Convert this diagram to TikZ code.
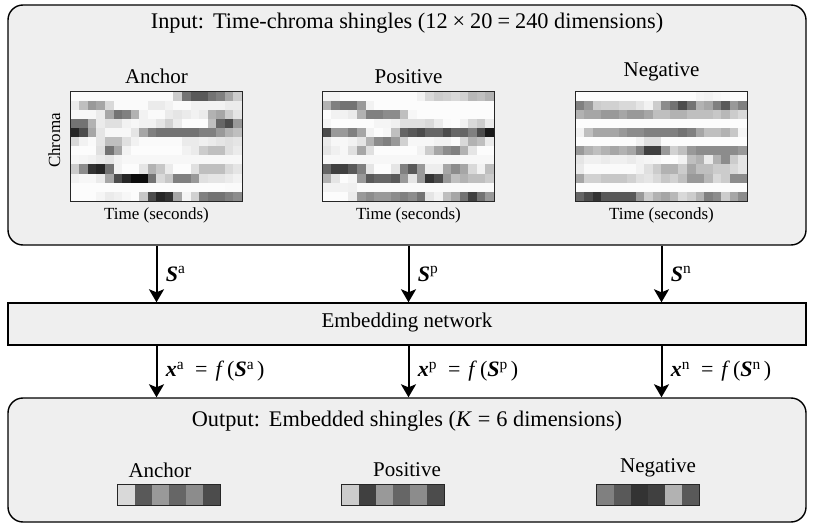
\documentclass[tikz,border=0pt]{standalone}
\usepackage{fontspec}
\setmainfont{Liberation Serif}
\usepackage{tikz}
\usetikzlibrary{arrows.meta,positioning,calc}
\definecolor{panelgray}{RGB}{239,239,239}

\begin{document}
\begin{tikzpicture}[x=1pt, y=-1pt, >={Stealth[length=13pt,width=15pt,inset=3pt]},
    panel/.style={draw=black, line width=1.4pt, fill=panelgray, minimum width=798pt, inner sep=0pt},
    flow/.style={->, line width=2pt},
    mapbox/.style={minimum width=171pt, minimum height=109pt, inner sep=0pt},
    vecbox/.style={minimum width=102pt, minimum height=20pt, inner sep=0pt},
    frame/.style={draw=black!85, line width=1.1pt},
    bigtext/.style={font=\fontsize{22.3}{26}\selectfont},
    midtext/.style={font=\fontsize{21}{25}\selectfont},
    labeltext/.style={font=\fontsize{22}{26}\selectfont},
    smalltext/.style={font=\fontsize{17}{20}\selectfont}]
    \useasboundingbox (0,0) rectangle (815,527);

    % Panels
    \node[panel, rounded corners=15pt, minimum height=240pt] (input) at (407,125) {};
    \node[panel, minimum height=42pt] (embed) at (407,324) {};
    \node[panel, rounded corners=15pt, minimum height=124pt] (output) at (407,460) {};

    \node[bigtext] (intitle) at (407,23) {Input:\hspace{9pt}Time-chroma shingles (12\hspace{5pt}×\hspace{5pt}20\hspace{5pt}=\hspace{5pt}240 dimensions)};
    \node[midtext] (embtitle) at (407,322) {Embedding network};
    \node[bigtext] (outtitle) at (407,421) {Output:\hspace{9pt}Embedded shingles (\textit{K}\hspace{6pt}=\hspace{6pt}6 dimensions)};

    % Chroma maps (12 x 20)
    \node[mapbox] (anchormap) at (156.5,146.5) {};
    \node[mapbox] (positivemap) at (408.5,146.5) {};
    \node[mapbox] (negativemap) at (661.5,146.5) {};

    \begin{scope}[shift={(anchormap.north west)}]
    \foreach \row [count=\r from 0] in {
        {98,98,98,98,98,98,98,98,98,98,98,98,80,45,35,35,45,50,65,80},
        {92,75,60,65,85,98,98,98,98,92,92,95,98,98,95,95,95,95,92,92},
        {97,97,97,92,65,45,50,70,95,98,98,92,90,92,95,92,70,65,80,90},
        {45,45,70,92,88,88,95,97,95,95,90,82,92,99,99,99,75,40,30,60},
        {15,30,65,90,97,97,97,90,65,50,45,45,45,45,45,50,50,60,70,75},
        {85,95,98,90,75,75,88,95,98,98,98,98,98,92,92,94,92,90,88,90},
        {99,99,99,88,45,65,95,99,99,99,99,99,99,95,92,80,75,75,88,92},
        {97,96,95,92,90,95,97,97,97,97,97,97,97,97,97,97,97,97,97,97},
        {80,55,20,15,45,95,99,99,90,70,78,92,99,99,88,75,75,75,85,90},
        {95,97,97,92,65,30,15,5,5,45,85,78,50,50,60,88,90,90,92,95},
        {99,99,99,99,99,99,99,99,99,99,99,99,99,99,99,99,99,99,98,98},
        {99,99,99,96,92,94,97,99,78,30,15,20,65,96,82,50,45,45,50,55}} {
        \foreach \v [count=\c from 0] in \row
            \fill[white!\v!black] (\c*8.55,\r*9.083) rectangle ++(8.6,9.13);
    }
    \end{scope}

    \begin{scope}[shift={(positivemap.north west)}]
    \foreach \row [count=\r from 0] in {
        {95,95,99,99,99,99,99,99,99,99,99,95,85,80,82,85,82,72,75,70},
        {70,50,45,45,60,95,99,99,99,99,99,99,99,99,99,99,99,99,99,99},
        {99,95,95,92,70,50,50,55,55,75,97,99,99,99,99,99,99,99,99,99},
        {96,99,99,99,99,99,96,96,94,88,88,88,85,92,98,99,95,85,80,92},
        {30,60,60,50,65,95,99,97,75,40,35,30,40,40,30,40,40,50,30,10},
        {92,97,97,95,90,70,55,50,60,82,97,97,97,95,95,98,85,70,75,92},
        {90,94,97,88,65,88,99,99,99,99,99,95,80,65,55,50,70,90,99,99},
        {97,97,97,97,97,97,97,97,97,97,97,97,97,97,97,97,97,97,97,97},
        {40,25,25,35,50,90,99,99,90,50,35,60,93,93,65,55,65,85,95,75},
        {70,90,99,96,60,35,40,40,35,60,90,60,20,30,60,75,70,75,75,80},
        {95,95,95,94,98,98,98,98,98,98,98,98,98,98,98,98,98,98,98,98},
        {99,99,99,92,60,55,60,60,55,50,55,45,90,95,75,65,45,25,45,60}} {
        \foreach \v [count=\c from 0] in \row
            \fill[white!\v!black] (\c*8.55,\r*9.083) rectangle ++(8.6,9.13);
    }
    \end{scope}

    \begin{scope}[shift={(negativemap.north west)}]
    \foreach \row [count=\r from 0] in {
        {99,99,99,99,99,99,99,99,99,99,99,99,99,99,96,95,97,98,99,99},
        {50,60,80,82,82,85,85,90,95,80,55,45,30,45,70,65,50,35,60,50},
        {70,65,65,60,60,65,60,60,65,75,75,70,70,75,75,75,78,72,80,85},
        {99,99,99,99,99,99,99,99,99,99,99,99,99,99,99,99,99,99,99,99},
        {95,75,65,65,65,60,55,55,50,50,50,50,45,50,65,75,75,70,78,96},
        {99,99,99,99,99,99,99,95,88,88,99,99,99,99,99,99,99,99,99,99},
        {60,70,75,70,65,70,65,50,25,25,60,82,75,60,55,55,55,55,55,60},
        {90,94,94,92,94,94,92,95,96,97,99,99,95,75,70,92,70,55,80,90},
        {92,98,98,98,98,98,98,95,88,80,70,70,80,65,75,75,80,80,85,90},
        {65,82,82,78,78,78,82,88,90,85,78,82,75,60,60,72,85,80,55,55},
        {99,99,99,99,99,99,99,99,99,99,99,99,99,99,99,99,99,99,99,99},
        {40,30,20,35,35,35,35,60,80,70,65,72,85,80,70,50,55,80,65,55}} {
        \foreach \v [count=\c from 0] in \row
            \fill[white!\v!black] (\c*8.55,\r*9.083) rectangle ++(8.6,9.13);
    }
    \end{scope}

    \draw[frame] (anchormap.north west) rectangle (anchormap.south east);
    \draw[frame] (positivemap.north west) rectangle (positivemap.south east);
    \draw[frame] (negativemap.north west) rectangle (negativemap.south east);

    % Map labels
    \node[midtext, above=5pt of anchormap] (anchorlabel) {Anchor};
    \node[midtext, above=5pt of positivemap] (positivelabel) {Positive};
    \node[midtext, above=7pt of negativemap] (negativelabel) {Negative};
    \node[smalltext, below=3pt of anchormap] (anchortime) {Time (seconds)};
    \node[smalltext, below=3pt of positivemap] (positivetime) {Time (seconds)};
    \node[smalltext, below=3pt of negativemap] (negativetime) {Time (seconds)};
    \node[smalltext, rotate=90, anchor=south] (chromalabel) at ([xshift=-7pt, yshift=6pt]anchormap.west) {Chroma};

    % Arrows
    \draw[flow] (input.south -| anchormap) -- node[labeltext, right=5pt] {\textbf{\textit{S}}\textsuperscript{a}} (embed.north -| anchormap);
    \draw[flow] (input.south -| positivemap) -- node[labeltext, right=5pt] {\textbf{\textit{S}}\textsuperscript{p}} (embed.north -| positivemap);
    \draw[flow] (input.south -| negativemap) -- node[labeltext, right=5pt] {\textbf{\textit{S}}\textsuperscript{n}} (embed.north -| negativemap);
    \draw[flow] (embed.south -| anchormap) -- node[labeltext, right=5pt] {\textbf{\textit{x}}\textsuperscript{a}\hspace{11pt}=\hspace{8pt}\textit{f}\hspace{3pt}(\textbf{\textit{S}}\textsuperscript{a}\hspace{3pt})} (output.north -| anchormap);
    \draw[flow] (embed.south -| positivemap) -- node[labeltext, right=5pt] {\textbf{\textit{x}}\textsuperscript{p}\hspace{11pt}=\hspace{8pt}\textit{f}\hspace{3pt}(\textbf{\textit{S}}\textsuperscript{p}\hspace{3pt})} (output.north -| positivemap);
    \draw[flow] (embed.south -| negativemap) -- node[labeltext, right=5pt] {\textbf{\textit{x}}\textsuperscript{n}\hspace{11pt}=\hspace{8pt}\textit{f}\hspace{3pt}(\textbf{\textit{S}}\textsuperscript{n}\hspace{3pt})} (output.north -| negativemap);

    % Embedded shingles (K = 6)
    \node[vecbox] (anchorvec) at (169,495) {};
    \node[vecbox] (positivevec) at (393,495) {};
    \node[vecbox] (negativevec) at (648,495) {};
    \foreach \v [count=\c from 0] in {85,35,60,40,55,30}
        \fill[white!\v!black] ([xshift=\c*17pt]anchorvec.north west) rectangle ++(17,20);
    \foreach \v [count=\c from 0] in {80,25,60,40,55,30}
        \fill[white!\v!black] ([xshift=\c*17pt]positivevec.north west) rectangle ++(17,20);
    \foreach \v [count=\c from 0] in {50,35,20,25,70,35}
        \fill[white!\v!black] ([xshift=\c*17pt]negativevec.north west) rectangle ++(17,20);
    \draw[frame] (anchorvec.north west) rectangle (anchorvec.south east);
    \draw[frame] (positivevec.north west) rectangle (positivevec.south east);
    \draw[frame] (negativevec.north west) rectangle (negativevec.south east);

    \node[midtext] (anchorname) at (160,470) {Anchor};
    \node[midtext] (positivename) at (407,470) {Positive};
    \node[midtext] (negativename) at (658,468) {Negative};
\end{tikzpicture}
\end{document}
